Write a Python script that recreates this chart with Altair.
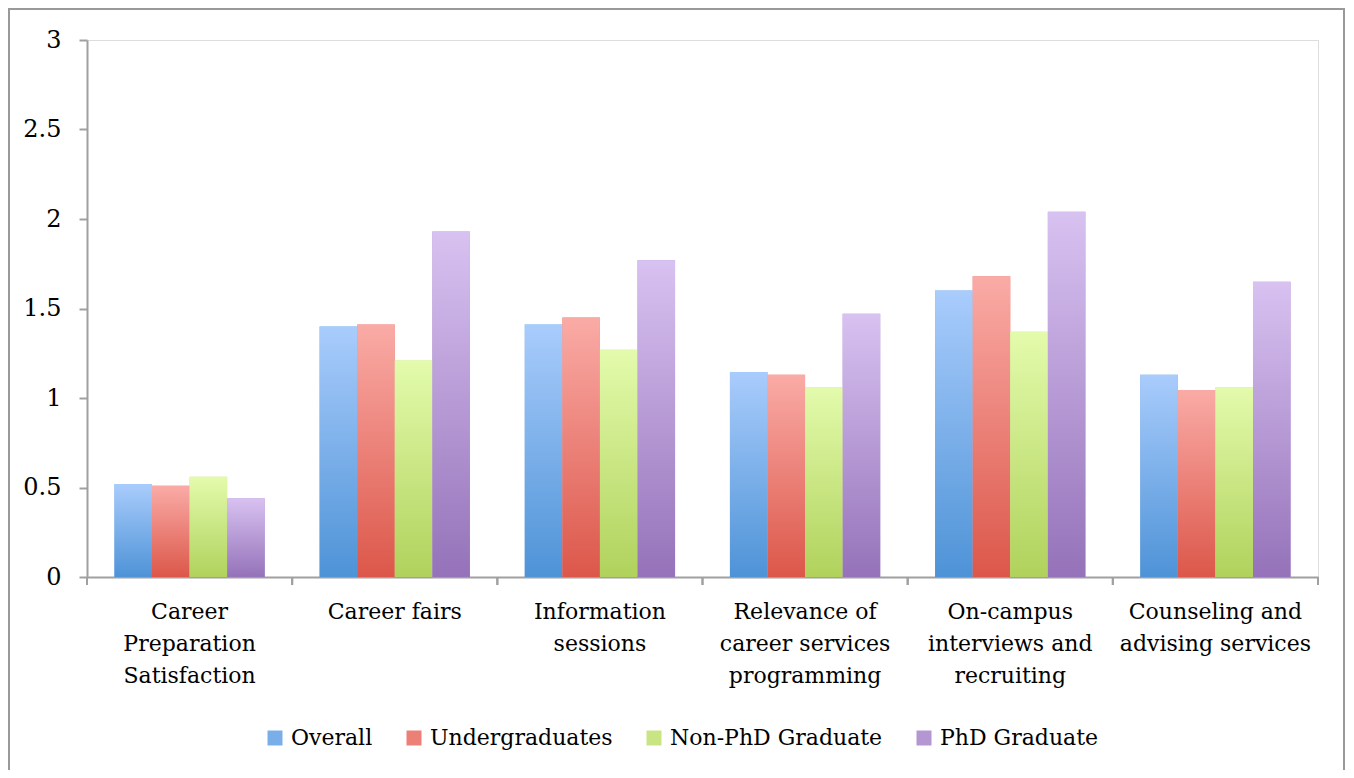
import altair as alt
import pandas as pd

categories = [
    "Career\nPreparation\nSatisfaction",
    "Career fairs",
    "Information\nsessions",
    "Relevance of\ncareer services\nprogramming",
    "On-campus\ninterviews and\nrecruiting",
    "Counseling and\nadvising services",
]
series = ["Overall", "Undergraduates", "Non-PhD Graduate", "PhD Graduate"]
overall = [0.52, 1.40, 1.41, 1.145, 1.60, 1.13]
undergraduates = [0.51, 1.41, 1.45, 1.13, 1.68, 1.045]
non_phd = [0.56, 1.21, 1.27, 1.06, 1.37, 1.06]
phd = [0.44, 1.93, 1.77, 1.47, 2.04, 1.65]
y_ticks = [0, 0.5, 1, 1.5, 2, 2.5, 3]

mid_colors = ["#7AAEE8", "#EC7F76", "#C9E482", "#B497D2"]
grad_stops = [
    ("#A9CCFC", "#4E93D7"),
    ("#FAABA6", "#DC574A"),
    ("#E3FBAC", "#B0D25C"),
    ("#D8C2F1", "#9572B9"),
]

rows = []
for s, vals in zip(series, [overall, undergraduates, non_phd, phd]):
    for c, v in zip(categories, vals):
        rows.append({"category": c, "series": s, "value": v})
df = pd.DataFrame(rows)

W, H = 1231, 537
FONT = "DejaVu Serif"
AXIS_COLOR = "#A0A0A0"

x_enc = alt.X(
    "category:N",
    sort=categories,
    scale=alt.Scale(paddingInner=0, paddingOuter=0),
    axis=alt.Axis(
        title=None,
        labelAngle=0,
        ticks=False,
        domainColor=AXIS_COLOR,
        domainWidth=2,
        labelFont=FONT,
        labelFontSize=22,
        labelColor="#000000",
        labelLineHeight=32,
        labelPadding=24,
        labelBaseline="top",
        labelLimit=0,
        labelExpr="split(datum.value, '\\n')",
    ),
)
xo_enc = alt.XOffset(
    "series:N",
    sort=series,
    scale=alt.Scale(domain=series, paddingInner=0, paddingOuter=0.73),
)
y_enc = alt.Y(
    "value:Q",
    scale=alt.Scale(domain=[0, 3], nice=False),
    axis=alt.Axis(
        title=None,
        values=y_ticks,
        grid=False,
        domainColor=AXIS_COLOR,
        domainWidth=2,
        tickColor=AXIS_COLOR,
        tickWidth=2,
        tickSize=8,
        labelPadding=18,
        labelFont=FONT,
        labelFontSize=24,
        labelColor="#000000",
        labelExpr="'' + datum.value",
    ),
)

base = alt.Chart(df).mark_bar().encode(
    x=x_enc,
    xOffset=xo_enc,
    y=y_enc,
    color=alt.Color(
        "series:N",
        sort=series,
        scale=alt.Scale(domain=series, range=mid_colors),
        legend=alt.Legend(
            title=None,
            orient="none",
            direction="horizontal",
            legendX=177,
            legendY=687,
            symbolType="square",
            symbolSize=225,
            symbolStrokeWidth=0,
            labelFont=FONT,
            labelFontSize=22,
            labelColor="#000000",
            labelOffset=5,
            labelLimit=0,
            columnPadding=30,
        ),
    ),
)

layers = [base]
for s, (top, bot) in zip(series, grad_stops):
    grad = {
        "gradient": "linear",
        "x1": 0, "y1": 0, "x2": 0, "y2": 1,
        "stops": [{"offset": 0, "color": top}, {"offset": 1, "color": bot}],
    }
    layers.append(
        alt.Chart(df)
        .transform_filter(alt.datum.series == s)
        .mark_bar(fill=grad)
        .encode(x=alt.X("category:N", sort=categories), xOffset=xo_enc, y=alt.Y("value:Q"))
    )

cat_df = pd.DataFrame({"category": categories})
for bp in (0, 1):
    layers.append(
        alt.Chart(cat_df)
        .mark_rule(color=AXIS_COLOR, strokeWidth=2)
        .encode(
            x=alt.X("category:N", sort=categories, bandPosition=bp),
            y=alt.value(H),
            y2=alt.value(H + 8),
        )
    )

frame_df = pd.DataFrame({"k": [0]})
frame = alt.Chart(frame_df).mark_rule(color="#999999", strokeWidth=2)
layers.append(frame.encode(x=alt.value(-78), x2=alt.value(1257), y=alt.value(-31)))
layers.append(frame.encode(x=alt.value(-78), y=alt.value(-32), y2=alt.value(H + 193)))
layers.append(frame.encode(x=alt.value(1257), y=alt.value(-32), y2=alt.value(H + 193)))

chart = (
    alt.layer(*layers)
    .properties(
        width=W,
        height=H,
        autosize=alt.AutoSizeParams(type="none"),
        padding={"left": 79, "top": 32, "right": 28, "bottom": 193},
    )
    .configure_view(stroke=None)
    .configure(background="white")
)

chart.save("out.html", embed_options={"renderer": "svg", "actions": False})
